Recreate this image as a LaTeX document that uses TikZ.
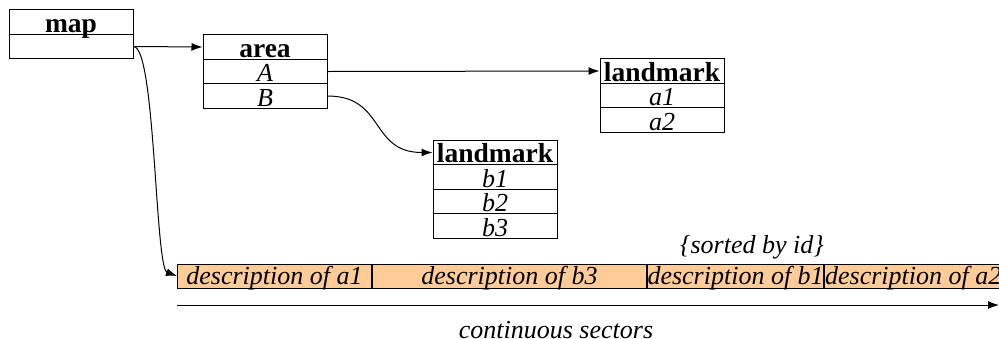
\documentclass[tikz,border=0pt]{standalone}
\usepackage{fontspec}
\setmainfont{Liberation Serif}
\usepackage{tikz}
\usetikzlibrary{arrows, arrows.meta}
\definecolor{sectorfill}{HTML}{FFCC99}
\newcommand{\recfont}{\fontsize{26}{28}\selectfont}
\newcommand{\headfont}{\fontsize{27.5}{29}\selectfont\bfseries}
\tikzstyle{field} = [draw, rectangle, line width=1pt, minimum width=124pt,
minimum height=24.5pt, inner sep=0pt, text height=22.5pt, text depth=2pt, font=\recfont]
\tikzstyle{head} = [field, font=\headfont]
\tikzstyle{entry} = [field, font=\recfont\itshape]
\tikzstyle{sector} = [draw, rectangle, fill=sectorfill, line width=1pt, anchor=west,
minimum height=24pt, inner sep=0pt, text height=20pt, text depth=4pt, font=\recfont\itshape]
\tikzstyle{note} = [font=\recfont\itshape]

\begin{document}
\begin{tikzpicture}[x=1pt, y=-1pt, node distance=24.5pt, >={Latex[length=11pt,width=8pt]}]
	\useasboundingbox (0,0) rectangle (999,338);
	% the map record
	\node [head] (map) at (71,22) {map};
	\node [field, below of=map] (maprow) {};
	% the area record
	\node [head] (area) at (265,47) {area};
	\node [entry, below of=area] (areaA) {A};
	\node [entry, below of=areaA] (areaB) {B};
	% the two landmark records
	\node [head] (lma) at (662,71) {landmark};
	\node [entry, below of=lma] (lmaone) {a1};
	\node [entry, below of=lmaone] (lmatwo) {a2};
	\node [head] (lmb) at (495,152.5) {landmark};
	\node [entry, below of=lmb] (lmbone) {b1};
	\node [entry, below of=lmbone] (lmbtwo) {b2};
	\node [entry, below of=lmbtwo] (lmbthree) {b3};
	% the sectors, one after the other
	\node [sector, minimum width=194pt] (desca1) at (177,276) {description of a1};
	\node [sector, minimum width=274pt] (descb3) at (desca1.east) {description of b3};
	\node [sector, minimum width=176pt] (descb1) at (descb3.east) {description of b1};
	\node [sector, minimum width=177pt] (desca2) at (descb1.east) {description of a2};
	\node [note] (sorted) at (752,247) {\{sorted by id\}};
	\coordinate (axisstart) at (177,305);
	\coordinate (axisend) at (999,305);
	\node [note] (sectors) at (556,330) {continuous sectors};

	% connectors
	\draw [->, line width=1pt] (maprow.east) -- (area.west);
	\draw [->, line width=1pt] (areaA.east) -- (lma.west);
	\draw [->, line width=1pt] (areaB.east) .. controls +(58,0) and +(-63,0) .. (lmb.west);
	\draw [->, line width=1pt] (maprow.east) .. controls +(22,0) and +(-22,-8) .. (desca1.west);
	\draw [->, line width=1pt] (axisstart) -- (axisend);
\end{tikzpicture}
\end{document}
